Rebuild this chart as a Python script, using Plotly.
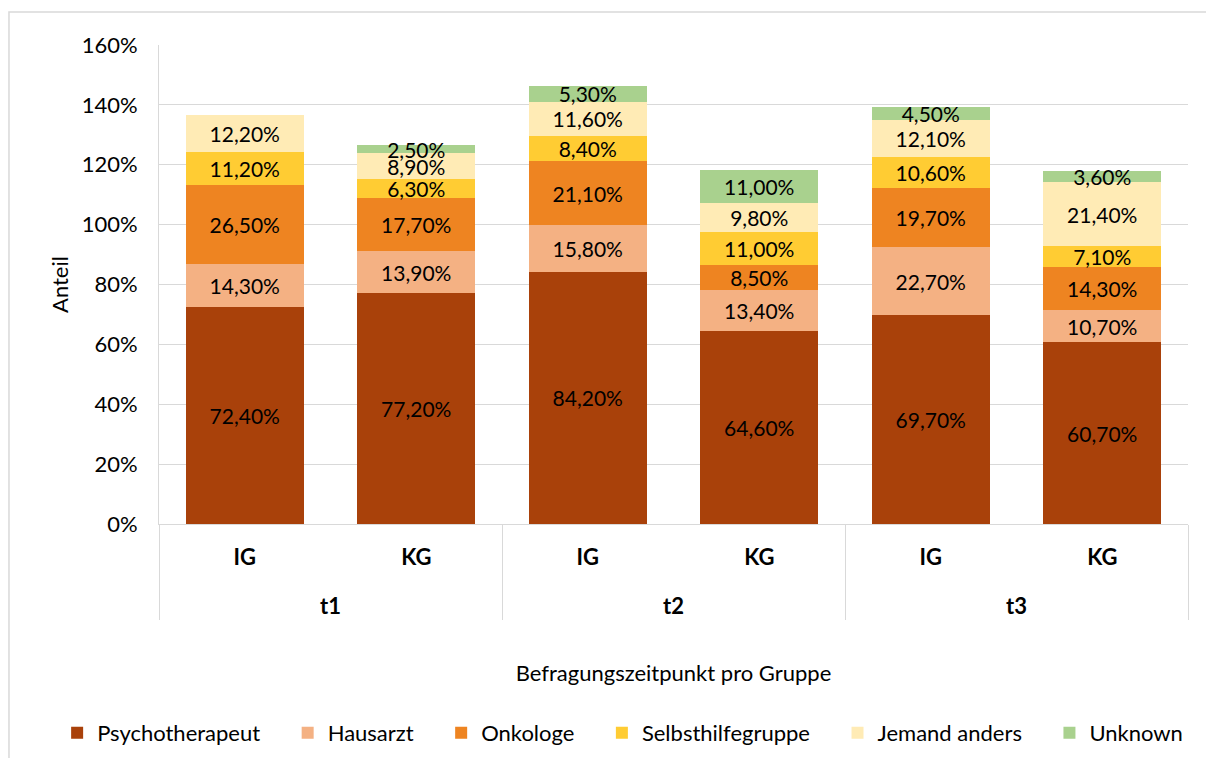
import plotly.graph_objects as go

zeitpunkt = ["t1", "t1", "t2", "t2", "t3", "t3"]
gruppe = ["IG", "KG", "IG", "KG", "IG", "KG"]

psychotherapeut = [72.4, 77.2, 84.2, 64.6, 69.7, 60.7]
hausarzt = [14.3, 13.9, 15.8, 13.4, 22.7, 10.7]
onkologe = [26.5, 17.7, 21.1, 8.5, 19.7, 14.3]
selbsthilfe = [11.2, 6.3, 8.4, 11.0, 10.6, 7.1]
jemand_anders = [12.2, 8.9, 11.6, 9.8, 12.1, 21.4]
unknown = [None, 2.5, 5.3, 11.0, 4.5, 3.6]

y_ticks = [0, 20, 40, 60, 80, 100, 120, 140, 160]

series = [
    ("Psychotherapeut", psychotherapeut, "#A9410A"),
    ("Hausarzt", hausarzt, "#F4B183"),
    ("Onkologe", onkologe, "#EE8421"),
    ("Selbsthilfegruppe", selbsthilfe, "#FFCC33"),
    ("Jemand anders", jemand_anders, "#FFEBB5"),
    ("Unknown", unknown, "#A9D18E"),
]

FONT = "Lato"
PAD = "\u00a0" * 4  # extra room between legend entries

# inner level gets an empty second line so the outer level sits lower
inner = [g + "<br><span style='font-size:45px'>\u00a0</span>" for g in gruppe]

fig = go.Figure()
for i, (name, vals, col) in enumerate(series):
    fig.add_trace(go.Bar(
        x=[zeitpunkt, inner],
        y=vals,
        name=name + (PAD if i < len(series) - 1 else ""),
        marker=dict(color=col, line=dict(width=0)),
        texttemplate="%{y:.2f}%",
        textposition="inside",
        insidetextanchor="middle",
        constraintext="none",
        textangle=0,
        textfont=dict(family=FONT, size=21, color="black"),
        hoverinfo="skip",
    ))

grid = "#D9D9D9"
fig.update_layout(
    barmode="stack",
    bargap=0.31,
    separators=",.",
    width=1206,
    height=750,
    margin=dict(l=151, r=26, t=37, b=234, autoexpand=False),
    paper_bgcolor="white",
    plot_bgcolor="white",
    font=dict(family=FONT, size=22, color="black"),
    showlegend=True,
    legend=dict(orientation="h", x=-0.099, xanchor="left", y=-0.436, yanchor="middle",
                font=dict(size=22), traceorder="normal"),
    xaxis=dict(
        type="multicategory",
        automargin=False,
        showline=True, linecolor=grid, linewidth=1,
        dividercolor=grid, dividerwidth=1, showdividers=True,
        tickfont=dict(size=22, weight="bold"),
        ticks="",
        ticklabelstandoff=14,
        title=dict(text="Befragungszeitpunkt pro Gruppe", font=dict(size=22), standoff=47),
    ),
    yaxis=dict(
        range=[0, 160],
        automargin=False,
        tickvals=y_ticks,
        ticktext=[f"{v}%" for v in y_ticks],
        showgrid=True, gridcolor=grid, gridwidth=1,
        showline=True, linecolor=grid, linewidth=1,
        zeroline=False,
        ticklabelstandoff=16,
        title=dict(text="Anteil", font=dict(size=22), standoff=6),
    ),
    shapes=[dict(type="rect", xref="paper", yref="paper",
                 x0=-0.1458, x1=1.05, y0=-0.6, y1=1.0689,
                 line=dict(color=grid, width=1.5), layer="below")],
)

fig.write_html("out.html")
